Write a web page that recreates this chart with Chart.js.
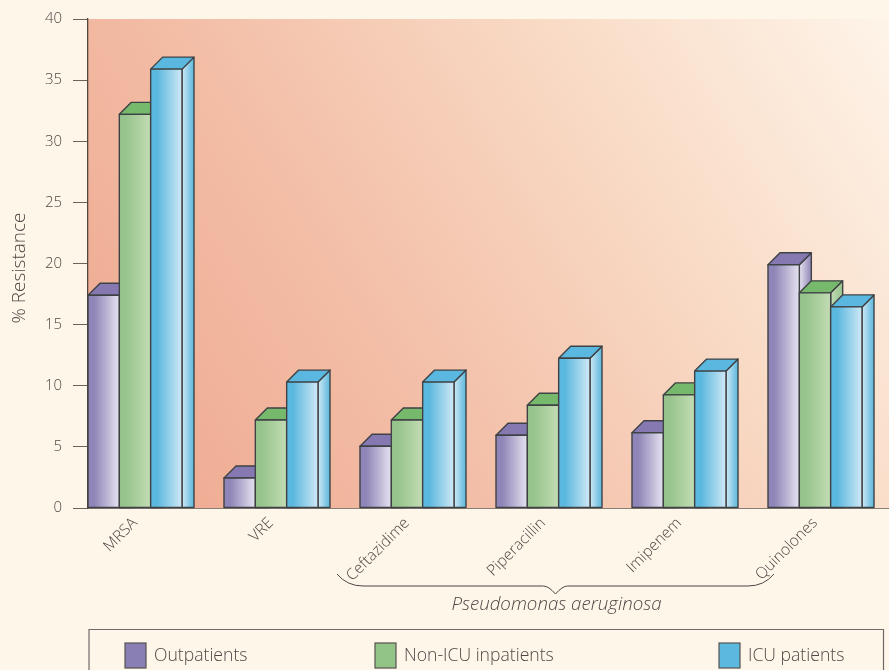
<!DOCTYPE html>
<html>
<head>
<meta charset="utf-8">
<title>% Resistance</title>
<script src="https://cdn.jsdelivr.net/npm/chart.js@4"></script>
<style>
    html, body { margin: 0; padding: 0; background: #fff6ea; overflow: hidden; }
    #wrap { width: 889px; height: 670px; }
</style>
</head>
<body>
<div id="wrap"><canvas id="chartCanvas" width="889" height="670"></canvas></div>
<script>
// Chart values
const categories = ['MRSA', 'VRE', 'Ceftazidime', 'Piperacillin', 'Imipenem', 'Quinolones'];
const seriesNames = ['Outpatients', 'Non-ICU inpatients', 'ICU patients'];
const outpatients = [17.4, 2.45, 5.05, 5.95, 6.15, 19.9];
const nonIcuInpatients = [32.2, 7.2, 7.2, 8.4, 9.25, 17.6];
const icuPatients = [35.9, 10.3, 10.3, 12.25, 11.2, 16.45];
const groupLabel = 'Pseudomonas aeruginosa';
const yAxisTitle = '% Resistance';

const FONT = '"Open Sans", "Noto Sans", sans-serif';
const TEXT_COLOR = '#4d4845';
const DEPTH = 12;

// Colours for each series: solid, gradient start, gradient end, top face
const faces = [
    { solid: '#8a7fb5', from: '#8f85b8', to: '#e6e2ef', top: '#8678b0' },
    { solid: '#93c487', from: '#97c48c', to: '#c3dcb4', top: '#76b86c' },
    { solid: '#5bb9df', from: '#5bb8de', to: '#cfe8f5', top: '#5ab8e0' }
];

function seriesData(values) {
    return values.map(function(v, i) { return { x: i, y: v }; });
}

// Diagonal wash behind the bars
const backgroundPlugin = {
    id: 'backgroundWash',
    beforeDraw: function(chart) {
        const a = chart.chartArea;
        const c = chart.ctx;
        const g = c.createLinearGradient(a.left, a.bottom, a.right, a.top);
        g.addColorStop(0, '#eea78e');
        g.addColorStop(0.35, '#f3bda6');
        g.addColorStop(0.7, '#f9dcc7');
        g.addColorStop(1, '#fef4e9');
        c.fillStyle = g;
        c.fillRect(a.left, a.top, a.right - a.left, a.bottom - a.top);
    }
};

// Turns each flat bar into a box: side face, top face, shaded front
const boxPlugin = {
    id: 'boxBars',
    afterDatasetsDraw: function(chart) {
        const c = chart.ctx;
        chart.data.datasets.forEach(function(ds, d) {
            const f = faces[d];
            chart.getDatasetMeta(d).data.forEach(function(bar) {
                const l = bar.x - bar.width / 2;
                const r = bar.x + bar.width / 2;
                const t = bar.y;
                const b = bar.base;
                c.save();
                c.lineWidth = 1.4;
                c.strokeStyle = '#3f4244';
                c.lineJoin = 'round';

                // side
                let g = c.createLinearGradient(r, 0, r + DEPTH, 0);
                g.addColorStop(0, f.to);
                g.addColorStop(1, f.from);
                c.fillStyle = g;
                c.beginPath();
                c.moveTo(r, t);
                c.lineTo(r + DEPTH, t - DEPTH);
                c.lineTo(r + DEPTH, b);
                c.lineTo(r, b);
                c.closePath();
                c.fill();
                c.stroke();

                // top
                c.fillStyle = f.top;
                c.beginPath();
                c.moveTo(l, t);
                c.lineTo(l + DEPTH, t - DEPTH);
                c.lineTo(r + DEPTH, t - DEPTH);
                c.lineTo(r, t);
                c.closePath();
                c.fill();
                c.stroke();

                // front
                g = c.createLinearGradient(l, 0, r, 0);
                g.addColorStop(0, f.from);
                g.addColorStop(0.2, f.from);
                g.addColorStop(1, f.to);
                c.fillStyle = g;
                c.fillRect(l, t, r - l, b - t);
                c.strokeRect(l, t, r - l, b - t);
                c.restore();
            });
        });
    }
};

// Brace under the Pseudomonas drugs, and its caption
const bracePlugin = {
    id: 'groupBrace',
    afterDraw: function(chart) {
        const c = chart.ctx;
        const x = chart.scales.x;
        const first = x.getPixelForValue(2) - 70;
        const last = x.getPixelForValue(5) - 41;
        const mid = (first + last) / 2;
        c.save();
        c.strokeStyle = '#4a4644';
        c.lineWidth = 1;
        c.beginPath();
        c.moveTo(first, 574);
        c.quadraticCurveTo(first + 10, 586, first + 26, 586);
        c.lineTo(mid - 12, 586);
        c.quadraticCurveTo(mid - 7, 586, mid, 594);
        c.quadraticCurveTo(mid + 7, 586, mid + 12, 586);
        c.lineTo(last - 26, 586);
        c.quadraticCurveTo(last - 10, 586, last, 574);
        c.stroke();
        c.fillStyle = TEXT_COLOR;
        c.font = 'italic 300 18.7px ' + FONT;
        c.textAlign = 'center';
        c.textBaseline = 'middle';
        c.fillText(groupLabel, mid + 1, 605);
        c.restore();
    }
};

// Axis title sits a little below the middle of the axis
const axisTitlePlugin = {
    id: 'axisTitle',
    afterDraw: function(chart) {
        const c = chart.ctx;
        c.save();
        c.translate(20, 268);
        c.rotate(-Math.PI / 2);
        c.fillStyle = TEXT_COLOR;
        c.font = '300 19px ' + FONT;
        c.textAlign = 'center';
        c.textBaseline = 'middle';
        c.fillText(yAxisTitle, 0, 0);
        c.restore();
    }
};

// Boxed key along the bottom edge
const keyPlugin = {
    id: 'boxedKey',
    afterDraw: function(chart) {
        const c = chart.ctx;
        const slots = [125, 375, 719];
        c.save();
        c.strokeStyle = '#6f6b68';
        c.lineWidth = 1.2;
        c.beginPath();
        c.moveTo(89, 672);
        c.lineTo(89, 629.5);
        c.lineTo(883.5, 629.5);
        c.lineTo(883.5, 672);
        c.stroke();
        seriesNames.forEach(function(name, i) {
            c.fillStyle = faces[i].solid;
            c.fillRect(slots[i], 643, 21, 25);
            c.strokeStyle = '#55524f';
            c.strokeRect(slots[i], 643, 21, 25);
            c.fillStyle = TEXT_COLOR;
            c.font = '300 17.6px ' + FONT;
            c.textAlign = 'left';
            c.textBaseline = 'middle';
            c.fillText(name, slots[i] + 29, 656);
        });
        c.restore();
    }
};

const ctx = document.getElementById('chartCanvas').getContext('2d');
const resistanceChart = new Chart(ctx, {
    type: 'bar',
    data: {
        datasets: [
            { label: seriesNames[0], data: seriesData(outpatients), backgroundColor: faces[0].solid },
            { label: seriesNames[1], data: seriesData(nonIcuInpatients), backgroundColor: faces[1].solid },
            { label: seriesNames[2], data: seriesData(icuPatients), backgroundColor: faces[2].solid }
        ]
    },
    options: {
        responsive: false,
        animation: false,
        events: [],
        layout: { padding: { top: 19, left: 0, right: 0, bottom: 0 } },
        categoryPercentage: 94 / 136,
        barPercentage: 1,
        plugins: {
            legend: { display: false },
            tooltip: { enabled: false }
        },
        scales: {
            x: {
                type: 'linear',
                offset: false,
                min: -47 / 136,
                max: 754 / 136,
                afterBuildTicks: function(axis) {
                    axis.ticks = axis.ticks.filter(function(t) { return Number.isInteger(t.value); });
                },
                afterFit: function(axis) { axis.height = 162; },
                grid: { offset: false, drawOnChartArea: false, drawTicks: false, color: '#8a7f78' },
                border: { color: '#8a7f78', width: 1 },
                ticks: {
                    stepSize: 1,
                    autoSkip: false,
                    maxRotation: 45,
                    minRotation: 45,
                    padding: 6,
                    color: TEXT_COLOR,
                    font: { family: FONT, size: 15.5, weight: '300' },
                    callback: function(value) { return categories[value]; }
                }
            },
            y: {
                min: 0,
                max: 40,
                afterFit: function(axis) {
                    axis.width = 88;
                    axis.paddingTop = 0;
                    axis.paddingBottom = 0;
                },
                grid: { drawOnChartArea: false, tickLength: 15, color: '#6e625c', lineWidth: 1 },
                border: { color: '#54463f', width: 1.3 },
                ticks: {
                    stepSize: 5,
                    padding: 11,
                    color: TEXT_COLOR,
                    font: { family: FONT, size: 15, weight: '300' }
                }
            }
        }
    },
    plugins: [backgroundPlugin, boxPlugin, bracePlugin, axisTitlePlugin, keyPlugin]
});
</script>
</body>
</html>
